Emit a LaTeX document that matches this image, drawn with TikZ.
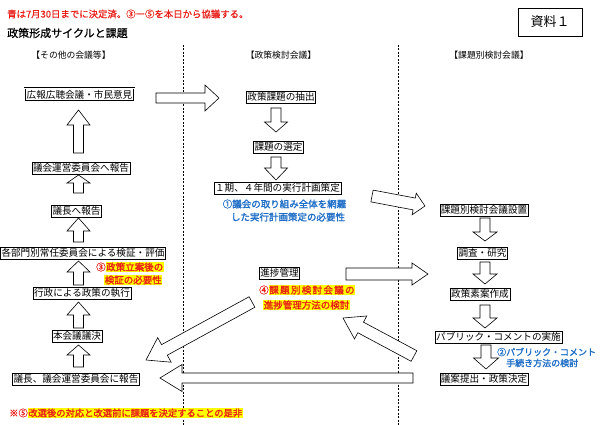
\documentclass[tikz,border=0pt]{standalone}
\usepackage{fontspec}
\setmainfont{Noto Sans CJK JP}
\newfontfamily\bfj[FakeBold=1.6]{Noto Sans CJK JP}
\newfontfamily\mdj[FakeBold=0.8]{Noto Sans CJK JP}
\usetikzlibrary{calc}
\definecolor{annred}{HTML}{E8201A}
\definecolor{annblue}{HTML}{1E6EC8}
\definecolor{hl}{HTML}{FFFF00}
\setlength{\fboxsep}{0.6pt}
\newcommand\hlt[1]{\colorbox{hl}{#1}}
\newcommand\blkarrow[5]{%
  \coordinate (bh) at ($(#2)!#5!(#1)$);
  \draw[blockarrow] ($(#1)!#3!90:(#2)$) -- ($(bh)!#3!90:(#2)$) -- ($(bh)!#4!90:(#2)$) -- (#2)
     -- ($(bh)!#4!-90:(#2)$) -- ($(bh)!#3!-90:(#2)$) -- ($(#1)!#3!-90:(#2)$) -- cycle;
}
\tikzset{
  box/.style={draw, line width=0.6pt, fill=white, inner xsep=1pt, inner ysep=1pt,
    font=\fontsize{9.6}{10}\selectfont, text height=8.4pt, text depth=1.6pt},
  dbox/.style={box, double, double distance=1pt, line width=0.5pt, inner xsep=2pt, inner ysep=1.5pt},
  blockarrow/.style={draw, line width=0.6pt, fill=white, line join=miter},
  divider/.style={line width=0.6pt, dash pattern=on 2pt off 1.5pt},
  header/.style={font=\fontsize{8.8}{10}\selectfont},
  annR/.style={anchor=west, inner sep=0pt, text=annred, font=\bfj\fontsize{9.5}{10}\selectfont},
  annB/.style={inner sep=0pt, text=annblue, font=\bfj\fontsize{9.5}{10}\selectfont},
}
\begin{document}
\begin{tikzpicture}[x=1pt,y=-1pt]
\useasboundingbox (0,0) rectangle (600,425);
\fill[white] (0,0) rectangle (600,425);

% top texts
\node[anchor=west, inner sep=0pt, text=annred, font=\mdj\fontsize{9.4}{10}\selectfont] (memo) at (7,14) {青は7月30日までに決定済。③ー⑤を本日から協議する。};
\node[anchor=west, inner sep=0pt, font=\mdj\fontsize{11}{12}\selectfont] (title) at (7,33) {政策形成サイクルと課題};
\node[draw, line width=0.6pt, minimum width=64pt, minimum height=28pt, font=\fontsize{13}{14}\selectfont] (doc) at (550,22) {資料１};

% headers
\node[header] (h1) at (71,55) {【その他の会議等】};
\node[header] (h2) at (281,55) {【政策検討会議】};
\node[header] (h3) at (489,55) {【課題別検討会議】};

% dividers
\coordinate (d1t) at (183,45); \coordinate (d1b) at (183,425);
\coordinate (d2t) at (398.5,45); \coordinate (d2b) at (398.5,425);
\draw[divider] (d1t) -- (d1b);
\draw[divider] (d2t) -- (d2b);

% ---- arrows (drawn before boxes) ----
% left column
\coordinate (l1s) at (78.5,153); \coordinate (l1e) at (78.5,110);
\blkarrow{l1s}{l1e}{5pt}{11.5pt}{15pt}
\coordinate (l2s) at (78.5,193); \coordinate (l2e) at (78.5,175);
\blkarrow{l2s}{l2e}{5pt}{11.5pt}{8pt}
\coordinate (l3s) at (78.5,242); \coordinate (l3e) at (78.5,218);
\blkarrow{l3s}{l3e}{5pt}{11.5pt}{13pt}
\coordinate (l4s) at (78.5,285); \coordinate (l4e) at (78.5,261);
\blkarrow{l4s}{l4e}{5pt}{11.5pt}{11pt}
\coordinate (l5s) at (78.5,328); \coordinate (l5e) at (78.5,302);
\blkarrow{l5s}{l5e}{5pt}{11.5pt}{13pt}
\coordinate (l6s) at (78.5,367); \coordinate (l6e) at (78.5,345);
\blkarrow{l6s}{l6e}{5pt}{11.5pt}{10pt}
% middle column
\coordinate (m0s) at (156,98); \coordinate (m0e) at (219,98);
\blkarrow{m0s}{m0e}{5pt}{13pt}{14pt}
\coordinate (m1s) at (276,108); \coordinate (m1e) at (276,132);
\blkarrow{m1s}{m1e}{5pt}{11.5pt}{10pt}
\coordinate (m2s) at (276,157); \coordinate (m2e) at (276,180);
\blkarrow{m2s}{m2e}{5pt}{11.5pt}{12pt}
\coordinate (x1s) at (372,196); \coordinate (x1e) at (425,206);
\blkarrow{x1s}{x1e}{6pt}{11pt}{11pt}
\coordinate (x2s) at (346,274); \coordinate (x2e) at (428,274);
\blkarrow{x2s}{x2e}{6pt}{11pt}{16pt}
\coordinate (x3s) at (252,302); \coordinate (x3e) at (146,360);
\blkarrow{x3s}{x3e}{6pt}{14pt}{21pt}
\coordinate (x4s) at (414,356); \coordinate (x4e) at (343,318);
\blkarrow{x4s}{x4e}{6pt}{13pt}{20pt}
\coordinate (x5s) at (413,378); \coordinate (x5e) at (160,378);
\blkarrow{x5s}{x5e}{5pt}{13.5pt}{22pt}
% right column
\coordinate (r1s) at (485,218); \coordinate (r1e) at (485,241);
\blkarrow{r1s}{r1e}{5pt}{12pt}{9pt}
\coordinate (r2s) at (485,262); \coordinate (r2e) at (485,284);
\blkarrow{r2s}{r2e}{5pt}{12pt}{10pt}
\coordinate (r3s) at (485,305); \coordinate (r3e) at (485,328);
\blkarrow{r3s}{r3e}{5pt}{12pt}{10pt}
\coordinate (r4s) at (486,345); \coordinate (r4e) at (486,369);
\blkarrow{r4s}{r4e}{5pt}{12.5pt}{11pt}

% ---- boxes ----
\node[dbox] (kocho) at (79.5,95) {広報広聴会議・市民意見};
\node[box] (giun) at (81,168.5) {議会運営委員会へ報告};
\node[box] (gicho) at (76.5,211) {議長へ報告};
\node[box] (bumon) at (83,253) {各部門別常任委員会による検証・評価};
\node[box] (gyosei) at (82,293) {行政による政策の執行};
\node[box] (honkai) at (77,336.5) {本会議議決};
\node[box] (hokoku) at (76,379) {議長、議会運営委員会に報告};

\node[box] (chushutsu) at (281,97.5) {政策課題の抽出};
\node[box] (sentei) at (278.5,147.5) {課題の選定};
\node[box] (keikaku) at (277.5,188) {１期、４年間の実行計画策定};
\node[box] (shinchoku) at (279.5,273.5) {進捗管理};

\node[box] (setchi) at (484,210.5) {課題別検討会議設置};
\node[box] (chosa) at (482.5,253) {調査・研究};
\node[box] (soan) at (480,294) {政策素案作成};
\node[box] (pubcom) at (498.5,337.5) {パブリック・コメントの実施};
\node[box] (ketsugi) at (484,379) {議案提出・政策決定};

% ---- annotations ----
\node[annB] (a1a) at (284.5,204) {①議会の取り組み全体を網羅};
\node[annB] (a1b) at (288,217) {した実行計画策定の必要性};
\node[annB, anchor=west, font=\bfj\fontsize{9}{10}\selectfont] (a2a) at (497,352) {②パブリック・コメント};
\node[annB, anchor=west, font=\bfj\fontsize{9}{10}\selectfont] (a2b) at (506,363) {手続き方法の検討};
\node[annR] (a3a) at (96,267) {③\hlt{政策立案後の}};
\node[annR] (a3b) at (104,280) {\hlt{検証の必要性}};
\node[annR] (a4a) at (259,290) {④\hlt{\addfontfeatures{LetterSpace=14}課題別検討会議の}};
\node[annR] (a4b) at (263,305) {\hlt{進捗管理方法の検討}};
\node[annR, font=\bfj\fontsize{9.3}{10}\selectfont] (a5) at (9,413) {※⑤\hlt{改選後の対応と改選前に課題を決定することの是非}};
\end{tikzpicture}
\end{document}
